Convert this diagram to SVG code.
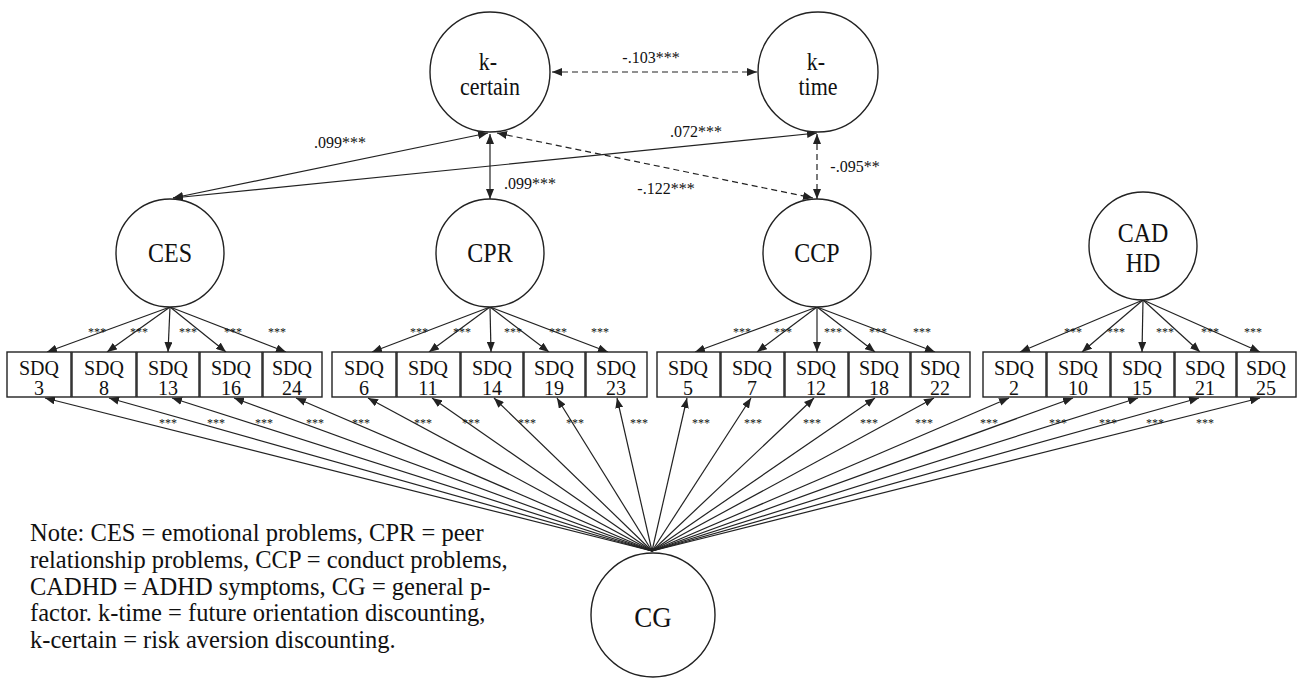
<svg xmlns="http://www.w3.org/2000/svg" width="1298" height="679" viewBox="0 0 1298 679" font-family="'Liberation Serif', 'DejaVu Serif', serif">
<style>
.c{fill:#fff;stroke:#222;stroke-width:1.4}
.b{fill:#fff;stroke:#222;stroke-width:1.4}
text{font-family:'Liberation Serif','DejaVu Serif',serif;fill:#111}
.tall{transform-box:fill-box;transform-origin:center;transform:scale(1,1.1)}
.t{text-anchor:middle}
.lat{font-size:24px}
.sdq{font-size:20px}
.lab{font-size:16px}
.st{font-size:12px}
.note{font-size:24.5px}
.l{stroke:#222;stroke-width:1.2;fill:none;marker-end:url(#ah)}
.d{stroke:#222;stroke-width:1.2;fill:none;marker-end:url(#ah);marker-start:url(#ah)}
.ds{stroke-dasharray:6,4}
</style>
<defs>
<marker id="ah" markerUnits="userSpaceOnUse" markerWidth="10" markerHeight="8" refX="10" refY="4" orient="auto-start-reverse">
<path d="M0,0 L10,4 L0,8 z" fill="#222"/>
</marker>
</defs>
<rect width="1298" height="679" fill="#fff"/>

<g id="connectors">
<line class="d ds" x1="552" y1="72" x2="757" y2="72"/>
<line class="d" x1="488" y1="133" x2="173" y2="198"/>
<line class="d" x1="817" y1="133" x2="173" y2="198"/>
<line class="d" x1="490" y1="134" x2="490" y2="199"/>
<line class="d ds" x1="497" y1="133" x2="813" y2="198"/>
<line class="d ds" x1="817" y1="134" x2="817" y2="199"/>
<line class="l" x1="170" y1="307" x2="47" y2="352"/>
<line class="l" x1="170" y1="307" x2="107" y2="352"/>
<line class="l" x1="170" y1="307" x2="168" y2="352"/>
<line class="l" x1="170" y1="307" x2="226" y2="352"/>
<line class="l" x1="170" y1="307" x2="286" y2="352"/>
<line class="l" x1="490" y1="307" x2="372" y2="352"/>
<line class="l" x1="490" y1="307" x2="429" y2="352"/>
<line class="l" x1="490" y1="307" x2="491" y2="352"/>
<line class="l" x1="490" y1="307" x2="549" y2="352"/>
<line class="l" x1="490" y1="307" x2="608" y2="352"/>
<line class="l" x1="817" y1="307" x2="695" y2="352"/>
<line class="l" x1="817" y1="307" x2="757" y2="352"/>
<line class="l" x1="817" y1="307" x2="817" y2="352"/>
<line class="l" x1="817" y1="307" x2="875" y2="352"/>
<line class="l" x1="817" y1="307" x2="935" y2="352"/>
<line class="l" x1="1143" y1="300" x2="1020" y2="352"/>
<line class="l" x1="1143" y1="300" x2="1082" y2="352"/>
<line class="l" x1="1143" y1="300" x2="1142" y2="352"/>
<line class="l" x1="1143" y1="300" x2="1200" y2="352"/>
<line class="l" x1="1143" y1="300" x2="1260" y2="352"/>
<line class="l" x1="652" y1="551" x2="45" y2="398"/>
<line class="l" x1="652" y1="551" x2="109" y2="398"/>
<line class="l" x1="652" y1="551" x2="172" y2="398"/>
<line class="l" x1="652" y1="551" x2="234" y2="398"/>
<line class="l" x1="652" y1="551" x2="296" y2="398"/>
<line class="l" x1="652" y1="551" x2="368" y2="398"/>
<line class="l" x1="652" y1="551" x2="432" y2="398"/>
<line class="l" x1="652" y1="551" x2="494" y2="398"/>
<line class="l" x1="652" y1="551" x2="557" y2="398"/>
<line class="l" x1="652" y1="551" x2="617" y2="398"/>
<line class="l" x1="652" y1="551" x2="687" y2="398"/>
<line class="l" x1="652" y1="551" x2="751" y2="398"/>
<line class="l" x1="652" y1="551" x2="814" y2="398"/>
<line class="l" x1="652" y1="551" x2="875" y2="398"/>
<line class="l" x1="652" y1="551" x2="934" y2="398"/>
<line class="l" x1="652" y1="551" x2="1009" y2="398"/>
<line class="l" x1="652" y1="551" x2="1073" y2="398"/>
<line class="l" x1="652" y1="551" x2="1138" y2="398"/>
<line class="l" x1="652" y1="551" x2="1199" y2="398"/>
<line class="l" x1="652" y1="551" x2="1260" y2="398"/>
</g>

<g id="edge-labels" class="t">
<text class="lab" x="651" y="63">-.103***</text>
<text class="lab" x="340" y="148">.099***</text>
<text class="lab" x="696" y="137">.072***</text>
<text class="lab" x="530" y="189">.099***</text>
<text class="lab" x="666" y="194">-.122***</text>
<text class="lab" x="855" y="172">-.095**</text>
<g class="st">
<text x="97" y="336">***</text><text x="139" y="336">***</text><text x="188" y="336">***</text><text x="233" y="336">***</text><text x="277" y="336">***</text>
<text x="419" y="336">***</text><text x="462" y="336">***</text><text x="513" y="336">***</text><text x="558" y="336">***</text><text x="600" y="336">***</text>
<text x="742" y="336">***</text><text x="783" y="336">***</text><text x="833" y="336">***</text><text x="878" y="336">***</text><text x="922" y="336">***</text>
<text x="1073" y="336">***</text><text x="1116" y="336">***</text><text x="1165" y="336">***</text><text x="1210" y="336">***</text><text x="1253" y="336">***</text>
<text x="168" y="427">***</text><text x="216" y="427">***</text><text x="264" y="427">***</text><text x="315" y="427">***</text><text x="361" y="427">***</text>
<text x="423" y="427">***</text><text x="471" y="427">***</text><text x="527" y="427">***</text><text x="575" y="427">***</text><text x="639" y="427">***</text>
<text x="701" y="427">***</text><text x="753" y="427">***</text><text x="812" y="427">***</text><text x="869" y="427">***</text><text x="924" y="427">***</text>
<text x="989" y="427">***</text><text x="1058" y="427">***</text><text x="1108" y="427">***</text><text x="1155" y="427">***</text><text x="1205" y="427">***</text>
</g>
</g>

<g id="k-certain"><ellipse class="c" cx="490" cy="72" rx="60" ry="60"/><text class="t tall" font-size="22" x="488" y="69">k-</text><text class="t tall" font-size="22" x="490" y="94">certain</text></g>
<g id="k-time"><ellipse class="c" cx="818" cy="72" rx="60" ry="60"/><text class="t tall" font-size="22" x="816" y="69">k-</text><text class="t tall" font-size="22" x="818" y="94">time</text></g>

<g id="CES"><circle class="c" cx="170" cy="253" r="54"/><text class="t lat tall" x="170" y="261">CES</text></g>
<g id="CPR"><circle class="c" cx="490" cy="253" r="54"/><text class="t lat tall" x="490" y="261">CPR</text></g>
<g id="CCP"><circle class="c" cx="817" cy="253" r="54"/><text class="t lat tall" x="817" y="261">CCP</text></g>
<g id="CADHD"><circle class="c" cx="1143" cy="246" r="54"/><text class="t lat tall" x="1143" y="241">CAD</text><text class="t lat tall" x="1143" y="271">HD</text></g>
<g id="CG"><circle class="c" cx="653" cy="615" r="62"/><text class="t tall" font-size="27" x="653" y="626">CG</text></g>

<g id="SDQ3"><rect class="b" x="7" y="352" width="64" height="45"/><text class="t sdq" x="39" y="375">SDQ</text><text class="t sdq" x="39" y="395">3</text></g>
<g id="SDQ8"><rect class="b" x="72" y="352" width="64" height="45"/><text class="t sdq" x="104" y="375">SDQ</text><text class="t sdq" x="104" y="395">8</text></g>
<g id="SDQ13"><rect class="b" x="137" y="352" width="62" height="45"/><text class="t sdq" x="168" y="375">SDQ</text><text class="t sdq" x="168" y="395">13</text></g>
<g id="SDQ16"><rect class="b" x="200" y="352" width="62" height="45"/><text class="t sdq" x="231" y="375">SDQ</text><text class="t sdq" x="231" y="395">16</text></g>
<g id="SDQ24"><rect class="b" x="263" y="352" width="59" height="45"/><text class="t sdq" x="292" y="375">SDQ</text><text class="t sdq" x="292" y="395">24</text></g>

<g id="SDQ6"><rect class="b" x="332" y="352" width="64" height="45"/><text class="t sdq" x="364" y="375">SDQ</text><text class="t sdq" x="364" y="395">6</text></g>
<g id="SDQ11"><rect class="b" x="397" y="352" width="63" height="45"/><text class="t sdq" x="428" y="375">SDQ</text><text class="t sdq" x="428" y="395">11</text></g>
<g id="SDQ14"><rect class="b" x="461" y="352" width="62" height="45"/><text class="t sdq" x="492" y="375">SDQ</text><text class="t sdq" x="492" y="395">14</text></g>
<g id="SDQ19"><rect class="b" x="524" y="352" width="61" height="45"/><text class="t sdq" x="554" y="375">SDQ</text><text class="t sdq" x="554" y="395">19</text></g>
<g id="SDQ23"><rect class="b" x="586" y="352" width="61" height="45"/><text class="t sdq" x="616" y="375">SDQ</text><text class="t sdq" x="616" y="395">23</text></g>

<g id="SDQ5"><rect class="b" x="657" y="352" width="63" height="45"/><text class="t sdq" x="688" y="375">SDQ</text><text class="t sdq" x="688" y="395">5</text></g>
<g id="SDQ7"><rect class="b" x="721" y="352" width="63" height="45"/><text class="t sdq" x="752" y="375">SDQ</text><text class="t sdq" x="752" y="395">7</text></g>
<g id="SDQ12"><rect class="b" x="785" y="352" width="63" height="45"/><text class="t sdq" x="816" y="375">SDQ</text><text class="t sdq" x="816" y="395">12</text></g>
<g id="SDQ18"><rect class="b" x="849" y="352" width="61" height="45"/><text class="t sdq" x="879" y="375">SDQ</text><text class="t sdq" x="879" y="395">18</text></g>
<g id="SDQ22"><rect class="b" x="911" y="352" width="59" height="45"/><text class="t sdq" x="940" y="375">SDQ</text><text class="t sdq" x="940" y="395">22</text></g>

<g id="SDQ2"><rect class="b" x="983" y="352" width="63" height="45"/><text class="t sdq" x="1014" y="375">SDQ</text><text class="t sdq" x="1014" y="395">2</text></g>
<g id="SDQ10"><rect class="b" x="1047" y="352" width="63" height="45"/><text class="t sdq" x="1078" y="375">SDQ</text><text class="t sdq" x="1078" y="395">10</text></g>
<g id="SDQ15"><rect class="b" x="1111" y="352" width="63" height="45"/><text class="t sdq" x="1142" y="375">SDQ</text><text class="t sdq" x="1142" y="395">15</text></g>
<g id="SDQ21"><rect class="b" x="1175" y="352" width="61" height="45"/><text class="t sdq" x="1205" y="375">SDQ</text><text class="t sdq" x="1205" y="395">21</text></g>
<g id="SDQ25"><rect class="b" x="1237" y="352" width="59" height="45"/><text class="t sdq" x="1266" y="375">SDQ</text><text class="t sdq" x="1266" y="395">25</text></g>

<g id="note" class="note">
<text x="30" y="541">Note: CES = emotional problems, CPR = peer</text>
<text x="30" y="568">relationship problems, CCP = conduct problems,</text>
<text x="30" y="595">CADHD = ADHD symptoms, CG = general p-</text>
<text x="30" y="621">factor. k-time = future orientation discounting,</text>
<text x="30" y="648">k-certain = risk aversion discounting.</text>
</g>
</svg>
